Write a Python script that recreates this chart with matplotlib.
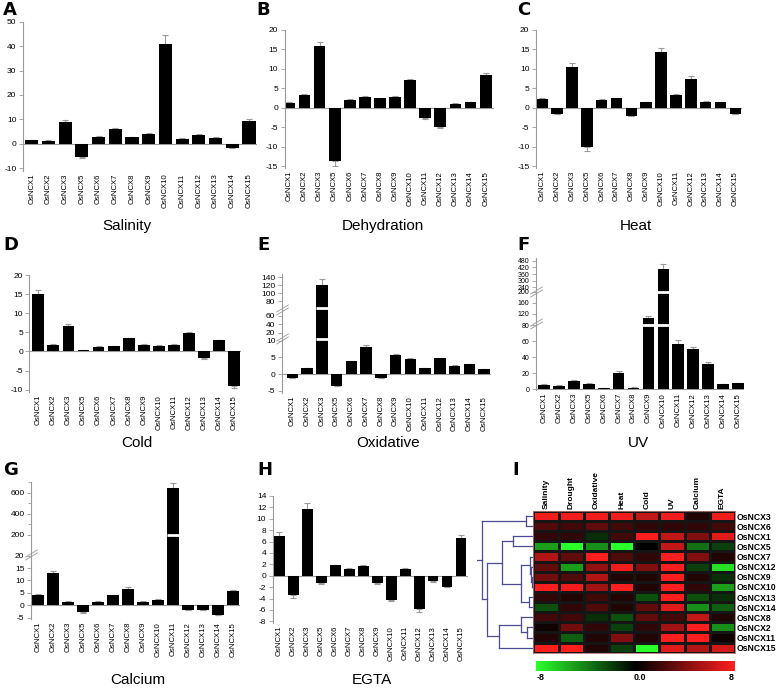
import numpy as np
import matplotlib
matplotlib.use('Agg')
import matplotlib.pyplot as plt
from matplotlib.colors import LinearSegmentedColormap
from matplotlib import transforms as mtrans
from matplotlib.path import Path

plt.rcParams['font.family'] = ['Liberation Sans', 'DejaVu Sans']

# ---------------- data ----------------
genes = ['OsNCX1', 'OsNCX2', 'OsNCX3', 'OsNCX5', 'OsNCX6', 'OsNCX7', 'OsNCX8',
         'OsNCX9', 'OsNCX10', 'OsNCX11', 'OsNCX12', 'OsNCX13', 'OsNCX14', 'OsNCX15']

salinity = [1.5, 1.3, 8.9, -5.3, 3.0, 6.0, 2.6, 4.1, 40.8, 2.0, 3.7, 2.5, -1.6, 9.3]
salinity_err = [0.2, 0.2, 0.8, 0.3, 0.4, 0.5, 0.2, 0.2, 3.7, 0.2, 0.2, 0.2, 0.2, 0.8]

dehydration = [1.3, 3.3, 15.9, -13.7, 2.1, 2.8, 2.4, 2.7, 7.1, -2.6, -4.9, 1.0, 1.5, 8.4]
dehydration_err = [0.1, 0.3, 1.1, 1.2, 0.1, 0.2, 0.1, 0.2, 0.4, 0.2, 0.2, 0.1, 0.1, 0.6]

heat = [2.2, -1.5, 10.5, -10.1, 2.1, 2.4, -2.1, 1.4, 14.4, 3.4, 7.5, 1.6, 1.4, -1.5]
heat_err = [0.2, 0.1, 1.0, 0.9, 0.1, 0.2, 0.1, 0.1, 0.9, 0.2, 0.6, 0.1, 0.1, 0.1]

cold = [15.0, 1.8, 6.6, 0.35, 1.3, 1.4, 3.4, 1.75, 1.5, 1.8, 4.9, -1.75, 3.0, -9.0]
cold_err = [1.0, 0.1, 0.5, 0.05, 0.1, 0.1, 0.2, 0.1, 0.1, 0.1, 0.2, 0.1, 0.1, 0.6]

oxidative = [-1.2, 1.8, 121, -3.6, 3.8, 8.2, -1.1, 5.8, 4.5, 1.8, 4.7, 2.5, 2.9, 1.5]
oxidative_err = [0.1, 0.1, 15, 0.1, 0.2, 0.6, 0.1, 0.3, 0.2, 0.1, 0.2, 0.1, 0.1, 0.1]

uv = [5.8, 4.6, 10.4, 6.7, 1.2, 20.8, 2.1, 106, 405, 56, 50, 31.7, 6.7, 7.5]
uv_err = [0.5, 0.4, 0.6, 0.5, 0.2, 1.5, 0.2, 7, 45, 5, 3, 2.5, 0.4, 0.4]

calcium = [4.1, 13.1, 1.4, -2.9, 1.4, 3.9, 6.5, 1.4, 2.2, 650, -1.8, -1.8, -3.8, 5.7]
calcium_err = [0.2, 0.8, 0.1, 0.1, 0.1, 0.2, 0.9, 0.1, 0.1, 45, 0.1, 0.1, 0.1, 0.3]

egta = [6.9, -3.35, 11.8, -1.35, 1.8, 1.2, 1.75, -1.35, -4.2, 1.25, -5.9, -1.0, -1.95, 6.7]
egta_err = [0.7, 0.6, 0.9, 0.1, 0.1, 0.1, 0.1, 0.1, 0.2, 0.1, 0.4, 0.1, 0.1, 0.4]

# heatmap (rows in clustered order)
hm_conditions = ['Salinity', 'Drought', 'Oxidative', 'Heat', 'Cold', 'UV', 'Calcium', 'EGTA']
hm_rows = ['OsNCX3', 'OsNCX6', 'OsNCX1', 'OsNCX5', 'OsNCX7', 'OsNCX12', 'OsNCX9',
           'OsNCX10', 'OsNCX13', 'OsNCX14', 'OsNCX8', 'OsNCX2', 'OsNCX11', 'OsNCX15']
hm_ncx3 = [7.5, 7.5, 7.5, 7.5, 6, 7.5, 1, 7.5]
hm_ncx6 = [2.5, 2, 3, 2, 1.5, 1.5, 1.5, 2]
hm_ncx1 = [1.5, 1.5, -1.5, 2, 8, 6, 4, 7]
hm_ncx5 = [-5, -8, -4.5, -8, 0, 6, -3.5, -2]
hm_ncx7 = [5.5, 3, 8, 2.5, 1.5, 8, 4, 1]
hm_ncx12 = [3, -5, 4.5, 7.5, 4, 8, -2, -7]
hm_ncx9 = [3.5, 2.5, 5.5, 1, 1, 8, 1, -1.5]
hm_ncx10 = [8, 7.5, 5, 8, 1, 8, 1.5, -5]
hm_ncx13 = [1.5, 1, 2, 1, -2.5, 8, -2.5, -1.5]
hm_ncx14 = [-2.5, 1.5, 2.5, 1, 3, 7, -4.5, -3]
hm_ncx8 = [2, 2, -1.5, -2.5, 3, 2, 6, 1]
hm_ncx2 = [0.5, 3.5, 1.5, -2, 1.5, 5, 8, -4.5]
hm_ncx11 = [1, -3, 1, 4, 1, 8, 8, 0.5]
hm_ncx15 = [8, 8, 1, -2, -8, 7, 5.5, 6.5]

# dendrogram merges: (child_a, child_b, height)
dendro_merges = [
    ('OsNCX3', 'OsNCX6', 7.3),
    ('OsNCX1', 'OsNCX5', 20.6),
    ('OsNCX9', 'OsNCX10', 1.5),
    ('OsNCX12', 2, 2.3),
    ('OsNCX7', 3, 3.3),
    ('OsNCX13', 'OsNCX14', 4.0),
    (4, 5, 12.6),
    (1, 6, 31.0),
    ('OsNCX2', 'OsNCX11', 6.6),
    ('OsNCX8', 8, 12.6),
    (9, 'OsNCX15', 34.3),
    (7, 10, 46.0),
    (0, 11, 51.0),
]

# ---------------- figure ----------------
W, H = 779, 690
fig = plt.figure(figsize=(W / 100, H / 100), dpi=100)
GREY = '#9a9a9a'


def add_px_axes(left, top, right, bottom):
    return fig.add_axes([left / W, 1 - bottom / H, (right - left) / W, (bottom - top) / H])


def bar_panel(box, vals, errs, ylim, yticks, scale=None, gaps=(), marks=(), minor=None,
              ylabsize=6):
    spine, first, last, right, top, bottom = box
    ax = add_px_axes(spine, top, right, bottom)
    sp = (last - first) / 13.0
    if scale is not None:
        V, P = scale
        V = np.asarray(V, float)
        P = np.asarray(P, float)
        ax.set_yscale('function',
                      functions=(lambda y: np.interp(y, V, P), lambda p: np.interp(p, P, V)))
    x = np.arange(len(vals))
    vals = np.asarray(vals, float)
    errs = np.asarray(errs, float)
    w = 0.78
    ax.bar(x, vals, width=w, color='black', zorder=2)
    lower = np.where(vals < 0, errs, 0)
    upper = np.where(vals >= 0, errs, 0)
    ax.errorbar(x, vals, yerr=[lower, upper], fmt='none', ecolor=GREY, elinewidth=0.8,
                capsize=2.2, capthick=0.8, zorder=1)
    ax.axhline(0, color=GREY, lw=0.8, zorder=1.5)
    for g in gaps:
        sel = vals > g
        ax.hlines(np.full(sel.sum(), g), x[sel] - w / 2 - 0.02, x[sel] + w / 2 + 0.02,
                  color='white', lw=2.0, zorder=3)
    tr = mtrans.blended_transform_factory(ax.transAxes, ax.transData)
    seg = Path([(-1, -0.6), (1, 0.6)])
    for m in marks:
        for dy in (-1.6, 1.6):
            off = mtrans.offset_copy(tr, fig=fig, y=dy, units='dots')
            ax.plot([0], [m], marker=seg, markersize=9, color=GREY, mew=0.6,
                    transform=off, clip_on=False, zorder=4)
    ax.set_xlim((spine - first) / sp, 13 + (right - last) / sp)
    ax.set_ylim(*ylim)
    ax.set_yticks(yticks)
    ax.set_yticklabels([str(t) for t in yticks])
    if minor is not None:
        ax.set_yticks(minor, minor=True)
        ax.tick_params(axis='y', which='minor', colors=GREY, length=2, width=0.6)
    else:
        ax.yaxis.set_minor_locator(matplotlib.ticker.NullLocator())
    ax.set_xticks(x)
    ax.set_xticklabels(genes, rotation=90, fontsize=5.6)
    for s in ('top', 'right', 'bottom'):
        ax.spines[s].set_visible(False)
    ax.spines['left'].set_color(GREY)
    ax.spines['left'].set_linewidth(0.8)
    ax.tick_params(axis='y', colors=GREY, labelcolor='black', labelsize=ylabsize,
                   length=3, width=0.6, pad=1.5)
    ax.tick_params(axis='x', length=0, pad=2)
    ax.set_facecolor('none')
    return ax


# A Salinity
bar_panel((22.7, 31.7, 249, 257, 21.7, 170.7), salinity, salinity_err,
          (-11, 50), [-10, 0, 10, 20, 30, 40, 50])
# B Dehydration
bar_panel((284.5, 289.3, 485.7, 494, 30, 168), dehydration, dehydration_err,
          (-15.5, 20), [-15, -10, -5, 0, 5, 10, 15, 20])
# C Heat
bar_panel((535.7, 542.3, 735.3, 742, 30, 168), heat, heat_err,
          (-15.5, 20), [-15, -10, -5, 0, 5, 10, 15, 20])
# D Cold
bar_panel((29.3, 38.3, 234.3, 241, 275, 392), cold, cold_err,
          (-10.6, 20), [-10, -5, 0, 5, 10, 15, 20])
# E Oxidative (broken axis)
bar_panel((281.7, 292.3, 484, 491, 274.3, 393), oxidative, oxidative_err,
          (-5.7, 147), [-5, 0, 5, 10, 20, 40, 60, 80, 100, 120, 140],
          scale=([-1000, -5, 10, 20, 60, 80, 140, 5000],
                 [-3316, 0, 49.7, 57.7, 75, 89.4, 113.4, 2000]),
          gaps=(12, 71), marks=(13, 68))
# F UV (broken axis)
bar_panel((535.7, 544.3, 737.7, 744, 258.3, 390), uv, uv_err,
          (-1, 502), [0, 20, 40, 60, 80, 120, 160, 200, 240, 300, 360, 420, 480],
          scale=([-1000, 0, 80, 200, 480, 5000], [-800, 0, 64, 97.3, 128.3, 620]),
          gaps=(82, 200), marks=(85, 205), ylabsize=5.0)
# G Calcium (broken axis)
bar_panel((30.7, 37.7, 233.3, 240, 482.3, 619), calcium, calcium_err,
          (-5.6, 700), [-5, 0, 5, 10, 15, 20, 200, 400, 600],
          scale=([-1000, -5, 20, 200, 700, 5000], [-2450, 0, 61.3, 82, 134, 560]),
          gaps=(200,), marks=(30,), minor=[300, 500, 700])
# H EGTA
bar_panel((272.5, 279.3, 461, 468, 496, 623), egta, egta_err,
          (-8.3, 14), [-8, -6, -4, -2, 0, 2, 4, 6, 8, 10, 12, 14])

# panel titles
for txt, cx, cy in [('Salinity', 127, 226), ('Dehydration', 383, 226), ('Heat', 636, 226),
                    ('Cold', 137, 443), ('Oxidative', 388, 443), ('UV', 638, 443),
                    ('Calcium', 138, 680), ('EGTA', 372, 680)]:
    fig.text(cx / W, 1 - cy / H, txt, ha='center', va='center', fontsize=11)

# panel letters
for txt, lx, cy in [('A', 3, 10), ('B', 256, 10), ('C', 517, 10),
                    ('D', 3, 245), ('E', 257, 245), ('F', 517, 245),
                    ('G', 3, 470), ('H', 257, 470), ('I', 512, 470)]:
    fig.text(lx / W, 1 - cy / H, txt, ha='left', va='center', fontsize=13,
             fontweight='bold', family='DejaVu Sans')

# ---------------- heatmap ----------------
cmap = LinearSegmentedColormap.from_list('gkr', ['#2bff2b', '#000000', '#ff1e1e'])
hm = np.array([hm_ncx3, hm_ncx6, hm_ncx1, hm_ncx5, hm_ncx7, hm_ncx12, hm_ncx9,
               hm_ncx10, hm_ncx13, hm_ncx14, hm_ncx8, hm_ncx2, hm_ncx11, hm_ncx15])
axh = add_px_axes(533.3, 511, 735, 652.7)
axh.pcolormesh(hm, cmap=cmap, vmin=-8, vmax=8, edgecolors='#151515', linewidth=0.8)
axh.set_xlim(0, len(hm_conditions))
axh.set_ylim(len(hm_rows), 0)
axh.set_xticks(np.arange(len(hm_conditions)) + 0.5)
axh.set_xticklabels(hm_conditions, rotation=90, fontsize=6, fontweight='bold')
axh.xaxis.tick_top()
axh.set_yticks(np.arange(len(hm_rows)) + 0.5)
axh.set_yticklabels(hm_rows, fontsize=6.2, fontweight='bold')
axh.yaxis.tick_right()
axh.tick_params(length=0, pad=1.5)
for s in axh.spines.values():
    s.set_color('#b07070')
    s.set_linewidth(0.6)

# dendrogram
axd = add_px_axes(477, 511, 533.3, 652.7)
axd.set_ylim(len(hm_rows), 0)
axd.set_xlim(56, 0)
axd.axis('off')
pos = {r: i + 0.5 for i, r in enumerate(hm_rows)}
hgt = {r: 0.0 for r in hm_rows}
DCOL = '#4b4b96'
for k, (a, b, h) in enumerate(dendro_merges):
    ya, yb = pos[a], pos[b]
    axd.plot([hgt[a], h], [ya, ya], color=DCOL, lw=0.9)
    axd.plot([hgt[b], h], [yb, yb], color=DCOL, lw=0.9)
    axd.plot([h, h], [ya, yb], color=DCOL, lw=0.9)
    pos[k] = (ya + yb) / 2
    hgt[k] = h
root = len(dendro_merges) - 1
axd.plot([hgt[root], 56], [pos[root], pos[root]], color=DCOL, lw=0.9)

# colorbar
axc = add_px_axes(536, 660.7, 735, 670.7)
axc.imshow(np.linspace(-8, 8, 256)[None, :], aspect='auto', cmap=cmap, vmin=-8, vmax=8)
axc.axis('off')
fig.text(537 / W, 1 - 677.5 / H, '-8', ha='left', va='center', fontsize=6.5, fontweight='bold')
fig.text(640 / W, 1 - 677.5 / H, '0.0', ha='center', va='center', fontsize=6.5, fontweight='bold')
fig.text(734 / W, 1 - 677.5 / H, '8', ha='right', va='center', fontsize=6.5, fontweight='bold')

fig.savefig('out.png', dpi=100)
